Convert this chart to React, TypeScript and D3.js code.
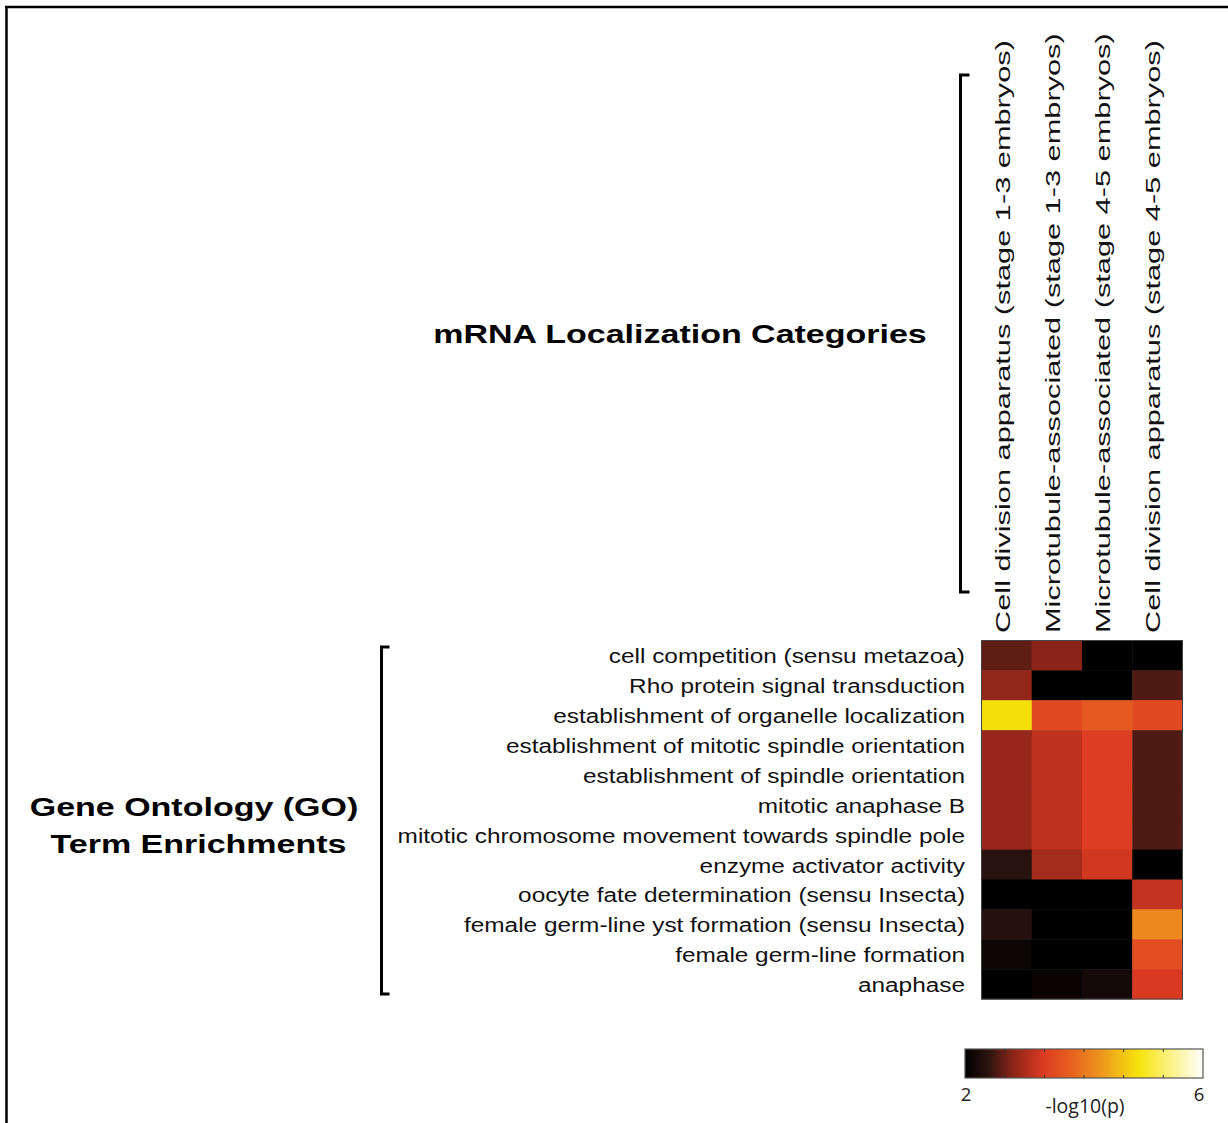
import React, { useEffect, useRef } from 'react';
import * as d3 from 'd3';

const columns = [
  'Cell division apparatus (stage 1-3 embryos)',
  'Microtubule-associated (stage 1-3 embryos)',
  'Microtubule-associated (stage 4-5 embryos)',
  'Cell division apparatus (stage 4-5 embryos)',
];

const goTerms = [
  'cell competition (sensu metazoa)',
  'Rho protein signal transduction',
  'establishment of organelle localization',
  'establishment of mitotic spindle orientation',
  'establishment of spindle orientation',
  'mitotic anaphase B',
  'mitotic chromosome movement towards spindle pole',
  'enzyme activator activity',
  'oocyte fate determination (sensu Insecta)',
  'female germ-line yst formation (sensu Insecta)',
  'female germ-line formation',
  'anaphase',
];

// -log10(p), one row per GO term, one value per column
const values = [
  [2.62, 2.8, 2.0, 2.0],
  [2.85, 2.0, 2.0, 2.55],
  [4.88, 3.5, 3.68, 3.5],
  [2.88, 3.12, 3.36, 2.55],
  [2.88, 3.12, 3.36, 2.55],
  [2.88, 3.12, 3.36, 2.55],
  [2.88, 3.12, 3.36, 2.55],
  [2.35, 2.96, 3.24, 2.0],
  [2.0, 2.0, 2.0, 3.16],
  [2.33, 2.0, 2.0, 4.16],
  [2.1, 2.0, 2.0, 3.56],
  [2.0, 2.08, 2.2, 3.3],
];

const colorDomain = [2, 6];
const cmapStops = [0, 0.1, 0.2, 0.33, 0.45, 0.58, 0.73, 0.85, 1];
const cmapColors = ['#000000', '#2c1410', '#8a2418', '#dc3a22', '#e8621e', '#ee9a1e', '#f6e40a', '#fbf07a', '#ffffff'];

const W = 1228;
const H = 1123;
const FONT = '"Liberation Sans", Arial, Helvetica, sans-serif';

const App = () => {
  const ref = useRef<SVGSVGElement>(null);

  useEffect(() => {
    const svg = d3.select(ref.current);
    svg.selectAll('*').remove();

    svg.append('rect').attr('width', W).attr('height', H).attr('fill', 'white');

    // frame (top and left edges only)
    svg.append('line').attr('x1', 5).attr('x2', W).attr('y1', 7).attr('y2', 7)
      .attr('stroke', '#000').attr('stroke-width', 2.5);
    svg.append('line').attr('x1', 6.5).attr('x2', 6.5).attr('y1', 6).attr('y2', H)
      .attr('stroke', '#000').attr('stroke-width', 2.5);

    const x = d3.scaleBand().domain(d3.range(columns.length) as any).range([981.5, 1182.5]);
    const y = d3.scaleBand().domain(d3.range(goTerms.length) as any).range([640.5, 999]);

    const lo = colorDomain[0], hi = colorDomain[1];
    const color = d3.scaleLinear<string>()
      .domain(cmapStops.map(f => lo + (hi - lo) * f))
      .range(cmapColors)
      .interpolate(d3.interpolateRgb)
      .clamp(true);

    const cells = values.flatMap((row, r) => row.map((v, c) => ({ r, c, v })));
    svg.append('g').selectAll('rect').data(cells).join('rect')
      .attr('x', d => x(d.c as any)!)
      .attr('y', d => y(d.r as any)!)
      .attr('width', x.bandwidth() + 0.5)
      .attr('height', y.bandwidth() + 0.5)
      .attr('fill', d => color(d.v));
    svg.append('rect')
      .attr('x', 981.5).attr('y', 640.5).attr('width', 201).attr('height', 358.5)
      .attr('fill', 'none').attr('stroke', '#444').attr('stroke-width', 1);

    // row labels (horizontally stretched like the source)
    svg.append('g').selectAll('g').data(goTerms).join('g')
      .attr('transform', (d, i) => `translate(965,${y(i as any)! + y.bandwidth() / 2 + 1}) scale(1.25,1)`)
      .append('text')
      .attr('text-anchor', 'end')
      .attr('dy', '0.36em')
      .style('font-family', FONT)
      .style('font-size', '19.5px')
      .attr('fill', '#111')
      .text(d => d);

    // column labels, stretched along the reading direction
    svg.append('g').selectAll('g').data(columns).join('g')
      .attr('transform', (d, i) => `translate(${x(i as any)! + x.bandwidth() / 2 + 3},633) rotate(-90) scale(1.5,1)`)
      .append('text')
      .attr('text-anchor', 'start')
      .style('font-family', FONT)
      .style('font-size', '20.5px')
      .attr('fill', '#111')
      .text(d => d);

    // titles
    const bold = (t: string, cx: number, by: number) =>
      svg.append('g').attr('transform', `translate(${cx},${by}) scale(1.36,1)`)
        .append('text')
        .attr('text-anchor', 'middle')
        .style('font-family', FONT)
        .style('font-size', '25px')
        .style('font-weight', 'bold')
        .attr('fill', '#000')
        .text(t);
    bold('mRNA Localization Categories', 680, 343);
    bold('Gene Ontology (GO)', 194, 816);
    bold('Term Enrichments', 198.5, 853);

    // brackets
    const bracket = (bx: number, y1: number, y2: number, tick: number) =>
      svg.append('path')
        .attr('d', `M${bx + tick},${y1}H${bx}V${y2}H${bx + tick}`)
        .attr('fill', 'none').attr('stroke', '#000').attr('stroke-width', 3);
    bracket(960.5, 75, 592, 9);
    bracket(381.5, 647, 994, 8);

    // colorbar
    const cb = { x: 965, y: 1049, w: 238, h: 29 };
    const defs = svg.append('defs');
    const grad = defs.append('linearGradient').attr('id', 'cbar')
      .attr('x1', '0%').attr('x2', '100%').attr('y1', '0%').attr('y2', '0%');
    d3.range(0, 1.0001, 0.02).forEach(f => {
      grad.append('stop').attr('offset', `${f * 100}%`).attr('stop-color', color(lo + (hi - lo) * f));
    });
    const cx = d3.scaleLinear().domain(colorDomain).range([cb.x, cb.x + cb.w]);
    svg.append('rect')
      .attr('x', cb.x).attr('y', cb.y).attr('width', cb.w).attr('height', cb.h)
      .attr('fill', 'url(#cbar)').attr('stroke', '#555').attr('stroke-width', 1.2);
    const ticks = d3.range(1, 6).map(i => lo + ((hi - lo) * i) / 6);
    const tg = svg.append('g').attr('stroke', '#333').attr('stroke-width', 1);
    ticks.forEach(t => {
      tg.append('line').attr('x1', cx(t)).attr('x2', cx(t)).attr('y1', cb.y).attr('y2', cb.y + 3);
      tg.append('line').attr('x1', cx(t)).attr('x2', cx(t)).attr('y1', cb.y + cb.h - 3).attr('y2', cb.y + cb.h);
    });
    const cbText = (t: string, px: number, py: number, fs: number) =>
      svg.append('text').attr('x', px).attr('y', py).attr('text-anchor', 'middle')
        .style('font-family', '"Open Sans", "Noto Sans", sans-serif')
        .style('font-size', `${fs}px`)
        .attr('fill', '#222')
        .text(t);
    cbText(String(colorDomain[0]), cx(colorDomain[0]) + 1, 1101, 18.5);
    cbText(String(colorDomain[1]), cx(colorDomain[1]) - 4, 1101, 18.5);
    cbText('-log10(p)', 1085, 1113, 19.5);
  }, []);

  return (
    <svg ref={ref} width={W} height={H}
      style={{ position: 'absolute', left: 0, top: 0, display: 'block' }} />
  );
};

export default App;
